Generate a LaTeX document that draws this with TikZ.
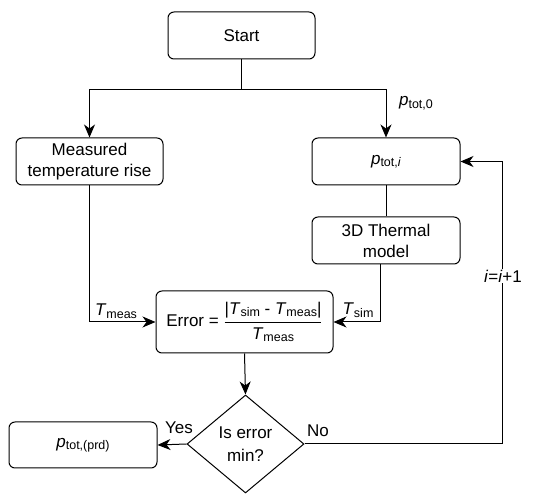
\documentclass[tikz,border=0pt]{standalone}
\usepackage{fontspec}
\setmainfont{Liberation Sans}
\usetikzlibrary{shapes.geometric,arrows.meta,calc}
\newcommand{\vsub}[2]{\textit{#1}\raisebox{-2.5pt}{\fontsize{12.5}{14}\selectfont #2}}
\begin{document}
\begin{tikzpicture}[x=1pt,y=-1pt,
  font=\fontsize{17}{21}\selectfont,
  box/.style={draw, rounded corners=6pt, line width=1pt, minimum width=147pt, minimum height=47pt, inner sep=2pt, align=center},
  arr/.style={line width=1pt, -{Stealth[length=13pt,width=11pt,inset=4pt]}},
  ln/.style={line width=1pt},
  lbl/.style={inner sep=1pt}]
\useasboundingbox (0,0) rectangle (558,494);
\node[box] (start) at (241.5,35.5) {Start};
\node[box] (meas) at (89.5,161.5) {Measured\\temperature rise};
\node[box, minimum width=148pt] (pi) at (386,161.5) {\vsub{p}{tot,\textit{i}}};
\node[box, minimum width=148pt] (model) at (386,240.5) {3D Thermal\\model};
\node[box, minimum width=177pt, minimum height=62pt] (err) at (244.5,322)
  {Error = $\displaystyle\frac{\mbox{|\vsub{T}{sim} - \vsub{T}{meas}|}}{\mbox{\rule{0pt}{16pt}\vsub{T}{meas}}}$};
\node[draw, diamond, aspect=1.19, minimum width=117pt, minimum height=98pt, inner sep=0pt, align=center, line width=1pt, font=\fontsize{17}{23}\selectfont] (dia) at (245.5,444) {Is error\\min?};
\node[box, minimum width=148pt, minimum height=46pt] (prd) at (83,445) {\vsub{p}{tot,(prd)}};

\coordinate (j) at (start.south |- 0,90);
\coordinate (loop) at (502,444);
\draw[ln] (start.south) -- (j);
\draw[arr] (j) -| (meas.north);
\draw[arr] (j) -| (pi.north);
\node[lbl] (p0) at (416,103) {\vsub{p}{tot,0}};
\draw[ln] (pi.south) -- (model.north);
\draw[arr] (meas.south) |- (err.west);
\node[lbl] (tm) at (116,311) {\vsub{T}{meas}};
\draw[arr] ([xshift=-6pt]model.south) |- (err.east);
\node[lbl] (ts) at (358,310) {\vsub{T}{sim}};
\draw[arr] (err.south) -- (dia.north);
\draw[arr] (dia.west) -- (prd.east);
\node[lbl] (yes) at (179,428) {Yes};
\draw[arr] (dia.east) -- (loop) |- (pi.east);
\node[lbl] (no) at (318,431) {No};
\node[lbl, fill=white] (inc) at (503,276) {\textit{i}=\textit{i}+1};
\end{tikzpicture}
\end{document}
